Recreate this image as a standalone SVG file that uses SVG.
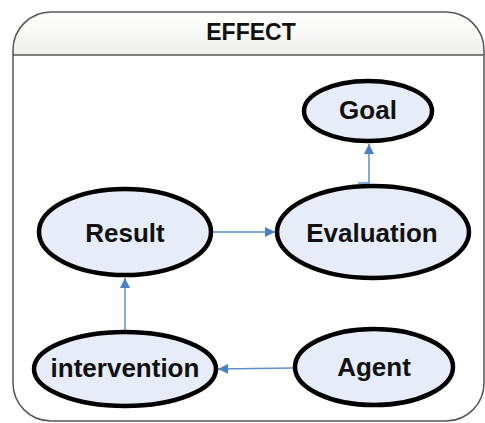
<svg xmlns="http://www.w3.org/2000/svg" width="485" height="423" viewBox="0 0 485 423">
<style>
.node ellipse{fill:#e6ecf8;stroke:#000;stroke-width:4.5}
.node text{font-family:"Liberation Sans",Arial,sans-serif;font-weight:bold;font-size:26px;text-anchor:middle;fill:#111}
.edge{fill:none;stroke:#5b8fd0;stroke-width:1.5}
</style>
<defs>
<linearGradient id="hdr" x1="0" y1="0" x2="0" y2="1">
<stop offset="0" stop-color="#ffffff"/>
<stop offset="1" stop-color="#eff0ea"/>
</linearGradient>
<clipPath id="cp"><rect x="13" y="12" width="471" height="409" rx="38" ry="38"/></clipPath>
<marker id="arr" viewBox="0 0 10 10" refX="10" refY="5" markerWidth="10" markerHeight="10" markerUnits="userSpaceOnUse" orient="auto">
<path d="M0,0 L10,5 L0,10 z" fill="#4a7fc8"/>
</marker>
</defs>
<g id="container">
<rect x="13" y="12" width="471" height="409" rx="38" ry="38" fill="#fff"/>
<rect x="13" y="12" width="471" height="43" fill="url(#hdr)" clip-path="url(#cp)"/>
<line x1="13" y1="55" x2="484" y2="55" stroke="#555" stroke-width="1.5"/>
<rect x="13" y="12" width="471" height="409" rx="38" ry="38" fill="none" stroke="#555" stroke-width="1.5"/>
<text x="251" y="40" font-family="Liberation Sans,Arial,sans-serif" font-weight="bold" font-size="23" text-anchor="middle" fill="#111">EFFECT</text>
</g>
<g id="connectors">
<path class="edge" d="M213,232 L275,232" marker-end="url(#arr)"/>
<path class="edge" d="M358,183 L369,183 L369,144" marker-end="url(#arr)"/>
<path class="edge" d="M125,330 L125,278" marker-end="url(#arr)"/>
<path class="edge" d="M293,368 L218,369" marker-end="url(#arr)"/>
</g>
<g id="goal" class="node"><ellipse cx="368" cy="111" rx="64" ry="30"/><text x="368" y="119">Goal</text></g>
<g id="evaluation" class="node"><ellipse cx="373" cy="232" rx="96" ry="46"/><text x="372" y="242">Evaluation</text></g>
<g id="result" class="node"><ellipse cx="125" cy="232" rx="86" ry="43"/><text x="125" y="242">Result</text></g>
<g id="intervention" class="node"><ellipse cx="125" cy="369" rx="91" ry="37"/><text x="125" y="377">intervention</text></g>
<g id="agent" class="node"><ellipse cx="374" cy="367" rx="79" ry="38"/><text x="374" y="376">Agent</text></g>
</svg>
